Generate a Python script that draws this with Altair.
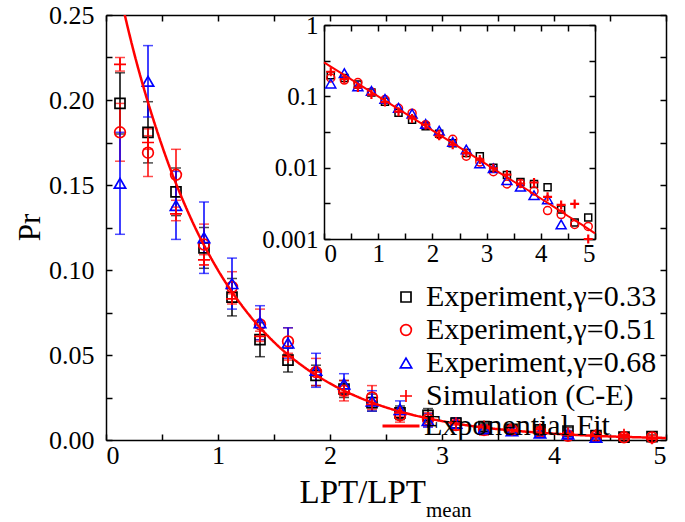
import altair as alt
import pandas as pd

# ---------------- data ----------------
x_bins = [0.125, 0.375, 0.625, 0.875, 1.125, 1.375, 1.625, 1.875, 2.125, 2.375,
          2.625, 2.875, 3.125, 3.375, 3.625, 3.875, 4.125, 4.375, 4.625, 4.875]

series_names = ["Experiment,γ=0.33", "Experiment,γ=0.51", "Experiment,γ=0.68", "Simulation (C-E)"]
series_colors = ["black", "red", "blue", "red"]

pr_033 = [0.198, 0.181, 0.146, 0.113, 0.084, 0.059, 0.047, 0.038, 0.030, 0.022,
          0.016, 0.0145, 0.0100, 0.0079, 0.0063, 0.0059, 0.0053, 0.0026, 0.0017, 0.0020]
err_033 = [0.018, 0.018, 0.014, 0.012, 0.011, 0.010, 0.007, 0.006, 0.005, 0.005,
           0.004, 0.004, 0.003, 0.002, 0.002, 0.002, 0.002, 0.001, 0.001, 0.001]

pr_051 = [0.181, 0.169, 0.156, 0.115, 0.090, 0.068, 0.058, 0.040, 0.029, 0.025,
          0.0145, 0.012, 0.0088, 0.0059, 0.0060, 0.0047, 0.0025, 0.0022, 0.0016, 0.0015]
err_051 = [0.017, 0.014, 0.015, 0.012, 0.009, 0.009, 0.008, 0.008, 0.006, 0.007,
           0.004, 0.004, 0.003, 0.003, 0.002, 0.002, 0.002, 0.001, 0.001, 0.001]

pr_068 = [0.151, 0.211, 0.138, 0.119, 0.092, 0.069, 0.057, 0.041, 0.033, 0.023,
          0.018, 0.0115, 0.0098, 0.0067, 0.0054, 0.0041, 0.0036, 0.0016, None, None]
err_068 = [0.030, 0.021, 0.020, 0.021, 0.015, 0.010, 0.009, 0.010, 0.006, 0.006,
           0.005, 0.004, 0.003, 0.002, 0.002, 0.002, 0.002, 0.001, None, None]

pr_sim = [0.221, 0.175, 0.133, 0.106, 0.083, 0.061, 0.049, 0.040, 0.028, 0.021,
          0.016, 0.013, 0.0098, 0.0080, 0.0060, 0.0062, 0.0039, 0.0030, 0.0031, 0.0010]
err_sim = [0.004, 0.004, 0.004, 0.003, 0.003, 0.003, 0.002, 0.002, 0.002, 0.002,
           0.002, 0.002, 0.001, 0.001, 0.001, 0.001, 0.001, 0.001, 0.001, 0.0005]

fit_x = [0.0, 0.25, 0.5, 0.75, 1.0, 1.25, 1.5, 1.75, 2.0, 2.25, 2.5,
         2.75, 3.0, 3.25, 3.5, 3.75, 4.0, 4.25, 4.5, 4.75, 5.0]
fit_y = [0.300, 0.2279, 0.1731, 0.1315, 0.0999, 0.0759, 0.0576, 0.0438, 0.0333, 0.0253, 0.0192,
         0.0146, 0.0111, 0.0084, 0.0064, 0.0049, 0.0037, 0.0028, 0.0021, 0.0016, 0.0012]

main_x_ticks = [0, 0.5, 1, 1.5, 2, 2.5, 3, 3.5, 4, 4.5, 5]
main_y_ticks = [0, 0.025, 0.05, 0.075, 0.1, 0.125, 0.15, 0.175, 0.2, 0.225, 0.25]
inset_y_ticks = [0.001, 0.00316, 0.01, 0.0316, 0.1, 0.316, 1]

# ---------------- tables ----------------
all_pr = [pr_033, pr_051, pr_068, pr_sim]
all_err = [err_033, err_051, err_068, err_sim]
rows = []
for name, vals, errs in zip(series_names, all_pr, all_err):
    for xv, v, e in zip(x_bins, vals, errs):
        if v is None:
            continue
        rows.append({"x": xv, "series": name, "v": v, "lo": v - e, "hi": v + e})
df = pd.DataFrame(rows)
fit_df = pd.DataFrame({"x": fit_x, "v": fit_y, "name": ["Exponential Fit"] * len(fit_x)})

FONT = "Liberation Serif"
PLUS = "M-1,0H1M0,-1V1"

W, H = 560, 425

xs_main = alt.Scale(domain=[0, 5], nice=False, zero=False)
ys_main = alt.Scale(domain=[0, 0.25], nice=False, zero=False)
xs_in = alt.Scale(domain=[0, 5], range=[218, 489], nice=False, zero=False)
ys_in = alt.Scale(type="log", domain=[0.001, 1], range=[224, 10], nice=False)


def make_axis(orient, values, show_labels, offset=0, label_expr=None, fmt=None,
              pad=8, fsize=26, title=None, **extra):
    kw = dict(orient=orient, values=values, labels=show_labels, offset=offset,
              domainColor="black", domainWidth=1.5, tickColor="black", tickWidth=1.5,
              tickSize={"expr": "-6"}, grid=False, labelFont=FONT, labelFontSize=fsize,
              labelColor="black", labelPadding=pad, title=title, labelOverlap=False)
    if label_expr:
        kw["labelExpr"] = label_expr
    if fmt:
        kw["format"] = fmt
    kw.update(extra)
    return alt.Axis(**kw)


INT_EXPR = "datum.value % 1 == 0 ? datum.label : ''"
Y_EXPR = "abs(datum.value*20 - round(datum.value*20)) < 0.001 ? datum.label : ''"
LOG_EXPR = "indexof(['0.001','0.01','0.1','1'], datum.label) >= 0 ? datum.label : ''"

ax_bottom = make_axis("bottom", main_x_ticks, True, label_expr=INT_EXPR, fmt="~g", pad=8)
ax_top = make_axis("top", main_x_ticks, False)
ax_left = make_axis("left", main_y_ticks, True, label_expr=Y_EXPR, fmt=".2f", pad=18,
                    title="Pr", titleFont=FONT, titleFontSize=31, titleFontWeight="normal",
                    titleColor="black", titleX=-76, titleY=212, titleAlign="center",
                    titleBaseline="middle", titleAngle=270)
ax_right = make_axis("right", main_y_ticks, False)

axi_bottom = make_axis("bottom", main_x_ticks, True, offset=-(H - 224), label_expr=INT_EXPR,
                       fmt="~g", pad=8, fsize=25)
axi_top = make_axis("top", main_x_ticks, False, offset=-10)
axi_left = make_axis("left", inset_y_ticks, True, offset=-218, label_expr=LOG_EXPR,
                     fmt="~g", pad=12, fsize=25)
axi_right = make_axis("right", inset_y_ticks, False, offset=-(W - 489))

shape_scale = alt.Scale(domain=series_names, range=["square", "circle", "triangle-up", PLUS])
color_scale = alt.Scale(domain=series_names, range=series_colors)

leg1 = alt.Legend(orient="none", legendX=285, legendY=267, title=None, padding=0,
                  labelFont=FONT, labelFontSize=30, labelColor="black", labelLimit=400,
                  symbolSize=121, symbolStrokeWidth=1.8, rowPadding=3, labelOffset=5,
                  direction="vertical")
leg2 = alt.Legend(orient="none", legendX=275, legendY=391, title=None, padding=0,
                  labelFont=FONT, labelFontSize=30, labelColor="black", labelLimit=400,
                  symbolType="stroke", symbolStrokeColor="red", symbolStrokeWidth=3,
                  symbolSize=1369, labelOffset=3)

# ---------------- main panel ----------------
main_layers = []
for name, col in zip(series_names, series_colors):
    sub = alt.Chart(df[df.series == name])
    main_layers.append(sub.mark_rule(color=col, strokeWidth=1.5).encode(
        x=alt.X("x:Q", scale=xs_main, axis=None),
        y=alt.Y("lo:Q", scale=ys_main, axis=None), y2="hi:Q"))
    for f in ["lo", "hi"]:
        main_layers.append(sub.mark_tick(color=col, orient="horizontal", size=10,
                                         thickness=1.5).encode(
            x=alt.X("x:Q", scale=xs_main, axis=None),
            y=alt.Y(f + ":Q", scale=ys_main, axis=None)))

size_scale = alt.Scale(domain=series_names, range=[100, 144, 169, 121])
stroke_scale = alt.Scale(domain=series_names, range=[1.7, 1.7, 1.7, 2.6])
main_layers.append(alt.Chart(df).mark_point(filled=False, opacity=1).encode(
    x=alt.X("x:Q", scale=xs_main, axis=ax_bottom),
    y=alt.Y("v:Q", scale=ys_main, axis=ax_left),
    shape=alt.Shape("series:N", scale=shape_scale, legend=leg1),
    color=alt.Color("series:N", scale=color_scale, legend=leg1),
    size=alt.Size("series:O", scale=size_scale, legend=None),
    strokeWidth=alt.StrokeWidth("series:O", scale=stroke_scale, legend=None),
))
main_layers.append(alt.Chart(fit_df).mark_line(color="red", strokeWidth=2.5,
                                               interpolate="monotone", clip=True).encode(
    x=alt.X("x:Q", scale=xs_main, axis=ax_top),
    y=alt.Y("v:Q", scale=ys_main, axis=ax_right),
    strokeDash=alt.StrokeDash("name:N", scale=alt.Scale(domain=["Exponential Fit"],
                                                        range=[[1, 0]]), legend=leg2),
))
title_df = pd.DataFrame({"t": ["LPT/LPT"], "s": ["mean"]})
main_layers.append(alt.Chart(title_df).mark_text(font=FONT, fontSize=33, align="right",
                                                 baseline="alphabetic", color="black").encode(
    x=alt.value(320), y=alt.value(488), text="t:N"))
main_layers.append(alt.Chart(title_df).mark_text(font=FONT, fontSize=21, align="left",
                                                 baseline="alphabetic", color="black").encode(
    x=alt.value(320), y=alt.value(502), text="s:N"))

main = alt.layer(*main_layers).resolve_axis(x="independent", y="independent")

# ---------------- inset panel ----------------
inset_sizes = [49, 64, 100, 81]
inset_strokes = [1.5, 1.5, 1.5, 2.2]
inset_shapes = ["square", "circle", "triangle-up", PLUS]
inset_layers = []
first = True
for name, col, shp, sz, sw in zip(series_names, series_colors, inset_shapes, inset_sizes,
                                  inset_strokes):
    inset_layers.append(alt.Chart(df[df.series == name]).mark_point(
        filled=False, strokeWidth=sw, opacity=1, color=col, shape=shp, size=sz).encode(
        x=alt.X("x:Q", scale=xs_in, axis=axi_bottom if first else None),
        y=alt.Y("v:Q", scale=ys_in, axis=axi_left if first else None)))
    first = False
inset_layers.append(alt.Chart(fit_df).mark_line(color="red", strokeWidth=2).encode(
    x=alt.X("x:Q", scale=xs_in, axis=axi_top),
    y=alt.Y("v:Q", scale=ys_in, axis=axi_right)))

inset = alt.layer(*inset_layers).resolve_axis(x="independent", y="independent")

chart = alt.layer(main, inset).resolve_scale(
    x="independent", y="independent"
).resolve_axis(
    x="independent", y="independent"
).properties(
    width=W, height=H,
    autosize=alt.AutoSizeParams(type="none"),
    padding={"left": 106, "top": 15, "right": 19, "bottom": 82},
    background="white",
).configure_view(stroke=None)

chart.save("out.html", embed_options={"renderer": "svg", "actions": False})
